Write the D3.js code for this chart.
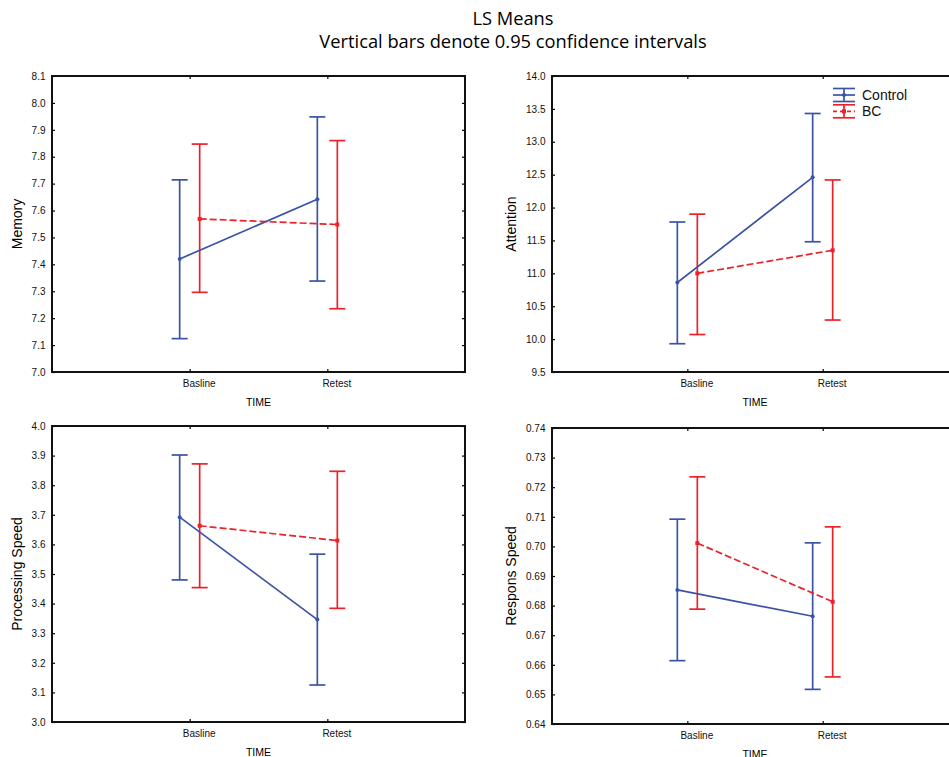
<!DOCTYPE html>
<html>
<head>
<meta charset="utf-8">
<script src="https://cdn.jsdelivr.net/npm/d3@7"></script>
<style>
  body { margin: 0; background: #fff; overflow: hidden; }
  svg { display: block; }
</style>
</head>
<body>
<div id="chart"></div>
<script>
// categories and groups
const times = ["Basline", "Retest"];
const groups = ["Control", "BC"];

// LS means with 0.95 confidence limits
const memoryData = [
    { group: "Control", time: "Basline", mean: 7.420, lo: 7.124, hi: 7.714 },
    { group: "Control", time: "Retest", mean: 7.642, lo: 7.338, hi: 7.948 },
    { group: "BC", time: "Basline", mean: 7.569, lo: 7.296, hi: 7.847 },
    { group: "BC", time: "Retest", mean: 7.548, lo: 7.235, hi: 7.860 }
];
const attentionData = [
    { group: "Control", time: "Basline", mean: 10.86, lo: 9.93, hi: 11.78 },
    { group: "Control", time: "Retest", mean: 12.46, lo: 11.48, hi: 13.43 },
    { group: "BC", time: "Basline", mean: 11.00, lo: 10.07, hi: 11.90 },
    { group: "BC", time: "Retest", mean: 11.35, lo: 10.29, hi: 12.42 }
];
const processingData = [
    { group: "Control", time: "Basline", mean: 3.692, lo: 3.480, hi: 3.902 },
    { group: "Control", time: "Retest", mean: 3.346, lo: 3.125, hi: 3.567 },
    { group: "BC", time: "Basline", mean: 3.663, lo: 3.454, hi: 3.872 },
    { group: "BC", time: "Retest", mean: 3.613, lo: 3.384, hi: 3.847 }
];
const responseData = [
    { group: "Control", time: "Basline", mean: 0.6853, lo: 0.6614, hi: 0.7092 },
    { group: "Control", time: "Retest", mean: 0.6764, lo: 0.6517, hi: 0.7012 },
    { group: "BC", time: "Basline", mean: 0.7011, lo: 0.6788, hi: 0.7235 },
    { group: "BC", time: "Retest", mean: 0.6813, lo: 0.6559, hi: 0.7066 }
];

// tick values of the y axes
const memoryTicks = [7.0, 7.1, 7.2, 7.3, 7.4, 7.5, 7.6, 7.7, 7.8, 7.9, 8.0, 8.1];
const attentionTicks = [9.5, 10.0, 10.5, 11.0, 11.5, 12.0, 12.5, 13.0, 13.5, 14.0];
const processingTicks = [3.0, 3.1, 3.2, 3.3, 3.4, 3.5, 3.6, 3.7, 3.8, 3.9, 4.0];
const responseTicks = [0.64, 0.65, 0.66, 0.67, 0.68, 0.69, 0.70, 0.71, 0.72, 0.73, 0.74];

const colors = { Control: "#3a53a4", BC: "#ec2229" };
const offsets = { Control: -10, BC: 10 };

const width = 949, height = 757;

const svg = d3.select("#chart")
    .append("svg")
    .attr("width", width)
    .attr("height", height)
    .style("font-family", "'Liberation Sans', Arial, sans-serif");

// title
svg.append("text")
    .attr("x", 513).attr("y", 24.5)
    .attr("text-anchor", "middle")
    .style("font-family", "'Open Sans', 'Noto Sans', sans-serif")
    .style("font-size", "18.3px")
    .text("LS Means");
svg.append("text")
    .attr("x", 513).attr("y", 47.5)
    .attr("text-anchor", "middle")
    .style("font-family", "'Open Sans', 'Noto Sans', sans-serif")
    .style("font-size", "18.3px")
    .text("Vertical bars denote 0.95 confidence intervals");

// panel layout
const panels = [
    { data: memoryData, ticks: memoryTicks, fmt: ".1f", label: "Memory", left: 52, top: 76, w: 413, h: 296, labelX: 17 },
    { data: attentionData, ticks: attentionTicks, fmt: ".1f", label: "Attention", left: 552, top: 76, w: 406, h: 296, labelX: 511, legend: true },
    { data: processingData, ticks: processingTicks, fmt: ".1f", label: "Processing Speed", left: 52, top: 426, w: 413, h: 296, labelX: 17 },
    { data: responseData, ticks: responseTicks, fmt: ".2f", label: "Respons Speed", left: 552, top: 428, w: 406, h: 296, labelX: 511 }
];

panels.forEach(function (p) {
    const g = svg.append("g")
        .attr("transform", `translate(${p.left}, ${p.top})`);

    const x = d3.scalePoint().domain(times).range([0, p.w]).padding(1);
    const y = d3.scaleLinear()
        .domain([p.ticks[0], p.ticks[p.ticks.length - 1]])
        .range([p.h, 0]);

    // axes with small inward ticks
    const yAxis = g.append("g")
        .call(d3.axisLeft(y).tickValues(p.ticks).tickFormat(d3.format(p.fmt))
            .tickSize(-3).tickPadding(6.5));
    g.append("g")
        .attr("transform", `translate(${p.w}, 0)`)
        .call(d3.axisRight(y).tickValues(p.ticks).tickFormat("").tickSize(-3));
    const xAxis = g.append("g")
        .attr("transform", `translate(0, ${p.h})`)
        .call(d3.axisBottom(x).tickSize(-3).tickPadding(8));
    g.append("g")
        .call(d3.axisTop(x).tickFormat("").tickSize(-3));

    g.selectAll(".domain").remove();
    g.selectAll(".tick line").attr("stroke", "#000").attr("stroke-width", 1.2);
    yAxis.selectAll("text").style("font-size", "10px").attr("fill", "#111");
    xAxis.selectAll("text")
        .style("font-size", "10px")
        .attr("fill", "#111")
        .attr("dx", 9);

    // frame
    g.append("rect")
        .attr("width", p.w).attr("height", p.h)
        .attr("fill", "none")
        .attr("stroke", "#111")
        .attr("stroke-width", 2);

    // axis titles
    g.append("text")
        .attr("x", p.w / 2).attr("y", p.h + 34)
        .attr("text-anchor", "middle")
        .style("font-size", "10.5px")
        .text("TIME");
    svg.append("text")
        .attr("transform", `translate(${p.labelX + 5}, ${p.top + p.h / 2}) rotate(-90)`)
        .attr("text-anchor", "middle")
        .style("font-size", "14px")
        .text(p.label);

    const px = (d) => x(d.time) + offsets[d.group];

    // error bars
    const bars = g.append("g").selectAll("g")
        .data(p.data)
        .join("g")
        .attr("stroke", (d) => colors[d.group])
        .attr("stroke-width", 1.7);
    bars.append("line")
        .attr("x1", px).attr("x2", px)
        .attr("y1", (d) => y(d.lo)).attr("y2", (d) => y(d.hi));
    bars.append("line")
        .attr("x1", (d) => px(d) - 8).attr("x2", (d) => px(d) + 8)
        .attr("y1", (d) => y(d.hi)).attr("y2", (d) => y(d.hi));
    bars.append("line")
        .attr("x1", (d) => px(d) - 8).attr("x2", (d) => px(d) + 8)
        .attr("y1", (d) => y(d.lo)).attr("y2", (d) => y(d.lo));

    // mean lines
    const line = d3.line().x(px).y((d) => y(d.mean));
    groups.forEach(function (grp) {
        const rows = p.data.filter((d) => d.group === grp);
        g.append("path")
            .datum(rows)
            .attr("d", line)
            .attr("fill", "none")
            .attr("stroke", colors[grp])
            .attr("stroke-width", 1.7)
            .attr("stroke-dasharray", grp === "BC" ? "7,3" : null);
    });

    // markers
    g.append("g").selectAll("circle")
        .data(p.data.filter((d) => d.group === "Control"))
        .join("circle")
        .attr("cx", px).attr("cy", (d) => y(d.mean))
        .attr("r", 2)
        .attr("fill", colors.Control);
    g.append("g").selectAll("rect")
        .data(p.data.filter((d) => d.group === "BC"))
        .join("rect")
        .attr("x", (d) => px(d) - 2).attr("y", (d) => y(d.mean) - 2)
        .attr("width", 4).attr("height", 4)
        .attr("fill", colors.BC);

    // legend
    if (p.legend) {
        const lg = g.append("g").attr("transform", "translate(281, 19)");
        groups.forEach(function (grp, i) {
            const row = lg.append("g")
                .attr("transform", `translate(0, ${i * 16.3})`)
                .attr("stroke", colors[grp])
                .attr("stroke-width", 1.7);
            [-6.5, 6.5].forEach(function (dy) {
                row.append("line").attr("x1", 0).attr("x2", 22).attr("y1", dy).attr("y2", dy);
            });
            row.append("line").attr("x1", 11).attr("x2", 11).attr("y1", -6.5).attr("y2", 6.5);
            row.append("line").attr("x1", 0).attr("x2", 22).attr("y1", 0).attr("y2", 0)
                .attr("stroke-dasharray", grp === "BC" ? "4,3" : null);
            if (grp === "Control") {
                row.append("circle").attr("cx", 11).attr("cy", 0).attr("r", 2)
                    .attr("stroke", "none").attr("fill", colors[grp]);
            } else {
                row.append("rect").attr("x", 9).attr("y", -2).attr("width", 4).attr("height", 4)
                    .attr("stroke", "none").attr("fill", colors[grp]);
            }
            row.append("text")
                .attr("x", 29).attr("y", 5)
                .attr("stroke", "none")
                .attr("fill", "#111")
                .style("font-size", "14px")
                .text(grp);
        });
    }
});
</script>
</body>
</html>
